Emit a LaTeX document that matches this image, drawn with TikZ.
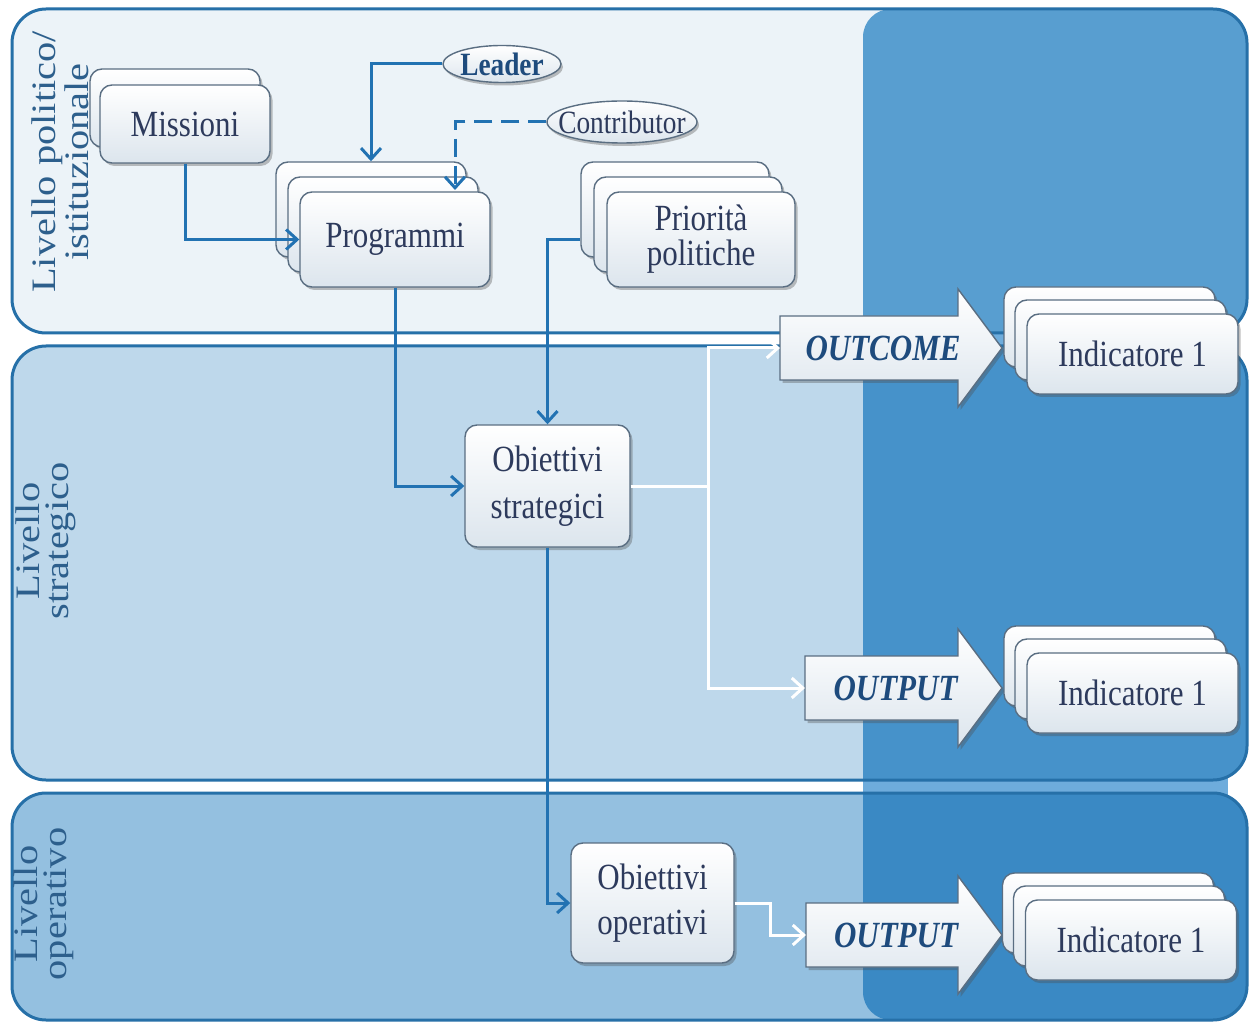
\documentclass[tikz,border=0pt]{standalone}
\usepackage{fontspec}
\newfontfamily\boxfont{Liberation Serif}[FakeStretch=0.84]
\newfontfamily\labfont{Liberation Serif}[FakeStretch=1.18]
\usetikzlibrary{arrows.meta,shapes.geometric,shadows,calc}
\newlength\pxu \setlength\pxu{0.02cm}
\definecolor{b1light}{RGB}{236,243,248}
\definecolor{b1dark}{RGB}{88,158,208}
\definecolor{b2light}{RGB}{190,216,235}
\definecolor{b2dark}{RGB}{70,146,202}
\definecolor{b3light}{RGB}{148,192,224}
\definecolor{b3dark}{RGB}{58,137,196}
\definecolor{colgap}{RGB}{110,172,220}
\definecolor{bandline}{RGB}{38,112,168}
\definecolor{conn}{RGB}{34,114,178}
\definecolor{boxline}{RGB}{90,110,130}
\definecolor{boxbot}{RGB}{220,229,237}
\definecolor{boxtext}{RGB}{45,58,92}
\definecolor{labtext}{RGB}{45,95,140}
\definecolor{arrtextc}{RGB}{30,75,125}
\tikzset{
  bandborder/.style={draw=bandline, line width=3\pxu, rounded corners=34\pxu},
  pbox/.style={draw=boxline, line width=0.8pt, rounded corners=12\pxu,
    top color=white, bottom color=boxbot,
    drop shadow={shadow xshift=2.5\pxu, shadow yshift=-3\pxu, opacity=0.35, fill=black!70},
    inner sep=0pt, align=center, text=boxtext, font=\boxfont\fontsize{21}{24}\selectfont},
  misbox/.style={pbox, minimum width=170\pxu, minimum height=78\pxu},
  progbox/.style={pbox, minimum width=190\pxu, minimum height=95\pxu},
  indbox/.style={pbox, minimum width=211\pxu, minimum height=80\pxu},
  ovalbox/.style={ellipse, draw=boxline, line width=0.8pt, top color=white, bottom color=boxbot,
    drop shadow={shadow xshift=2\pxu, shadow yshift=-3\pxu, opacity=0.35, fill=black!70},
    inner sep=0pt, text=arrtextc, font=\boxfont\fontsize{18.5}{20}\selectfont},
  lab/.style={rotate=90, align=center, inner sep=0pt, text=labtext, font=\labfont\fontsize{19.5}{16.5}\selectfont},
  bigarrow/.style={draw=boxline, line width=0.8pt, top color=white, bottom color=boxbot,
    drop shadow={shadow xshift=2.5\pxu, shadow yshift=-3\pxu, opacity=0.35, fill=black!70}},
  arrlabel/.style={inner sep=0pt, text=arrtextc, font=\boxfont\bfseries\itshape\fontsize{21}{24}\selectfont},
  blueline/.style={draw=conn, line width=3\pxu, -{Straight Barb[length=2.2mm,width=4mm]}},
  whiteline/.style={draw=white, line width=3\pxu},
  whitearrow/.style={whiteline, -{Straight Barb[length=2.2mm,width=4mm]}},
}
\newcommand\bigarr[4]{%
  \draw[bigarrow] (#2,#3-32) -- (958,#3-32) -- (958,#3-59) -- (1002,#3) -- (958,#3+59) -- (958,#3+32) -- (#2,#3+32) -- cycle;
  \coordinate (#1tail) at (#2,#3);
  \node[arrlabel] (#1) at ({(#2+958)/2+14},#3) {#4};
}
\begin{document}
\begin{tikzpicture}[x=0.02cm,y=-0.02cm]
\useasboundingbox (0,0) rectangle (1250,1023);
\fill[white] (0,0) rectangle (1250,1023);
% gaps in dark column
\fill[colgap] (863,330) rectangle (1228,349);
\fill[colgap] (863,777) rectangle (1228,796);
% band 1
\begin{scope}
  \clip[rounded corners=34\pxu] (12,9) rectangle (1247,333);
  \fill[b1light] (0,0) rectangle (1250,1023);
  \fill[b1dark, rounded corners=28\pxu] (863,9) rectangle (1247,1020);
\end{scope}
\draw[bandborder] (12,9) rectangle (1247,333);
% band 2
\begin{scope}
  \clip[rounded corners=34\pxu] (12,346) rectangle (1247,780);
  \fill[b2light] (0,0) rectangle (1250,1023);
  \fill[b2dark, rounded corners=28\pxu] (863,9) rectangle (1247,1020);
\end{scope}
\draw[bandborder] (12,346) rectangle (1247,780);
% band 3
\begin{scope}
  \clip[rounded corners=34\pxu] (12,793) rectangle (1247,1020);
  \fill[b3light] (0,0) rectangle (1250,1023);
  \fill[b3dark, rounded corners=28\pxu] (863,9) rectangle (1247,1020);
\end{scope}
\draw[bandborder] (12,793) rectangle (1247,1020);

% level labels
\node[lab] (l1) at (60,162) {Livello politico/\\istituzionale};
\node[lab] (l2) at (46,541) {Livello\\strategico};
\node[lab] (l3) at (44,904) {Livello\\operativo};

% boxes
\node[misbox] (misB) at (175,108) {};
\node[misbox] (misF) at (185,124) {Missioni};
\node[progbox] (progB) at (371,209.5) {};
\node[progbox] (progM) at (383,224.5) {};
\node[progbox] (progF) at (395,239.5) {Programmi};
\node[progbox, minimum width=188\pxu] (prioB) at (675,209.5) {};
\node[progbox, minimum width=188\pxu] (prioM) at (688,224.5) {};
\node[progbox, minimum width=188\pxu, font=\boxfont\fontsize{21}{20}\selectfont] (prioF) at (701,239.5) {Priorità\\politiche};
\node[pbox, minimum width=165\pxu, minimum height=122\pxu, font=\boxfont\fontsize{21}{27}\selectfont] (obs) at (547.5,486) {Obiettivi\\strategici};
\node[pbox, minimum width=163\pxu, minimum height=120\pxu, font=\boxfont\fontsize{21}{25.5}\selectfont] (obo) at (652.5,903) {Obiettivi\\operativi};

\node[ovalbox, minimum width=118\pxu, minimum height=37\pxu, font=\boxfont\bfseries\fontsize{18.5}{20}\selectfont] (leader) at (502,64) {\makebox[0pt][c]{Leader}};
\node[ovalbox, minimum width=150\pxu, minimum height=42\pxu, text=boxtext] (contrib) at (622,122) {\makebox[0pt][c]{Contributor}};

% big arrows
\bigarr{oc}{780}{348}{OUTCOME}
\bigarr{opa}{805}{688}{OUTPUT}
\bigarr{opb}{806}{935}{OUTPUT}

% indicator stacks
\node[indbox] (i1B) at (1109.5,327) {};
\node[indbox] (i1M) at (1120.5,340) {};
\node[indbox] (i1F) at (1132.5,354) {Indicatore 1};
\node[indbox] (i2B) at (1109.5,666) {};
\node[indbox] (i2M) at (1120.5,679) {};
\node[indbox] (i2F) at (1132.5,693) {Indicatore 1};
\node[indbox] (i3B) at (1108,913) {};
\node[indbox] (i3M) at (1119,926) {};
\node[indbox] (i3F) at (1131,940) {Indicatore 1};

% connectors
\coordinate (ctip) at (455,190);
\coordinate (split) at (708,486);
\coordinate (bend) at (770,903);
\draw[blueline] (leader.west) -| (progB.north);
\draw[blueline, dash pattern=on 18\pxu off 9\pxu] (contrib.west) -| (ctip);
\draw[blueline] (misF.south) |- (progF.west);
\draw[blueline] (progF.south) |- (obs.west);
\draw[blueline] (prioB.west |- progF.center) -| (obs.north);
\draw[blueline] (obs.south) |- (obo.west);
\draw[whiteline] (obs.east) -- (split);
\draw[whitearrow] (split) |- (octail);
\draw[whitearrow] (split) |- (opatail);
\draw[whitearrow] (obo.east) -- (bend) |- (opbtail);
\end{tikzpicture}
\end{document}
